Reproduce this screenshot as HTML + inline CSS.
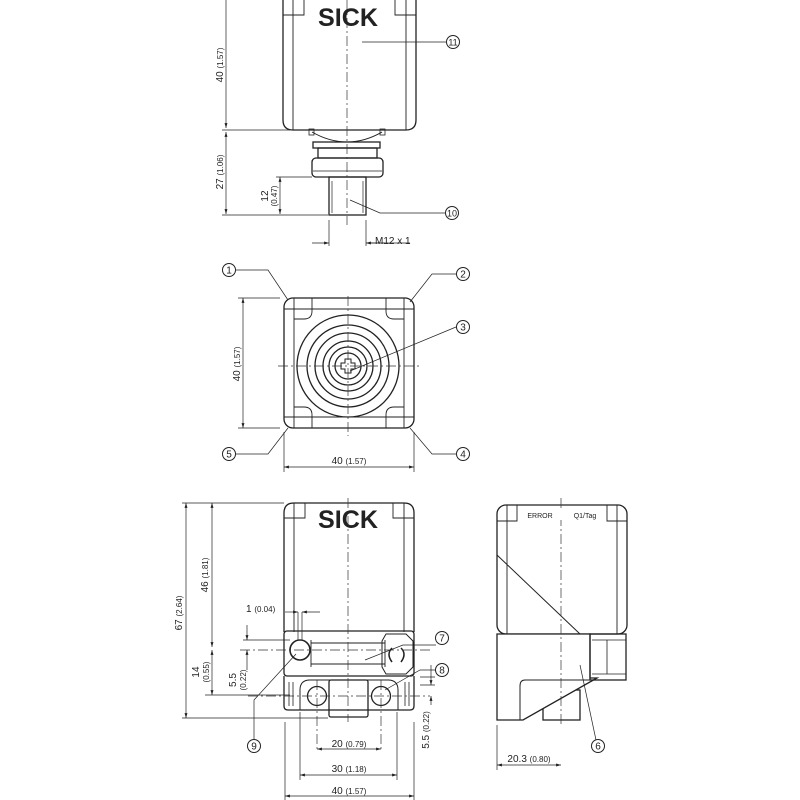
<!DOCTYPE html>
<html><head><meta charset="utf-8"><style>
html,body{margin:0;padding:0;background:#fff}
svg{display:block}
text{font-family:"Liberation Sans",sans-serif;fill:#222}
.s{font-size:8px}
</style></head><body>
<svg width="800" height="800" viewBox="0 0 800 800" xmlns="http://www.w3.org/2000/svg">
<defs>
<marker id="a" viewBox="0 0 10 10" refX="10" refY="5" markerWidth="7" markerHeight="7" orient="auto-start-reverse"><path d="M0,2 L10,5 L0,8 z" fill="#222"/></marker>
</defs>
<g fill="none" stroke="#222" stroke-width="1.3">
<!-- TOP VIEW -->
<path d="M283,-5 V120 Q283,130 293,130 H406 Q416,130 416,120 V-5"/>
<path d="M293,-5 V130 M406,-5 V130 M283,15 H304 V0 M416,15 H395 V0" stroke-width="0.9"/>
<path d="M312,132 Q347,152 382,132" stroke-width="1"/>
<rect x="309" y="129" width="5" height="6" stroke-width="0.8"/><rect x="380" y="129" width="5" height="6" stroke-width="0.8"/>
<rect x="313" y="142" width="67" height="6"/>
<rect x="318" y="148" width="59" height="10"/>
<rect x="312" y="158" width="71" height="19" rx="4"/>
<line x1="313" y1="171" x2="382" y2="171" stroke-width="0.8"/>
<rect x="329" y="177" width="37" height="38"/>
<line x1="332" y1="181" x2="332" y2="213" stroke-width="0.7"/><line x1="363" y1="181" x2="363" y2="213" stroke-width="0.7"/>
<!-- FRONT VIEW -->
<rect x="284" y="298" width="130" height="130" rx="9"/>
<path d="M294,298 V428 M404,298 V428 M284,309 H414 M284,417 H414" stroke-width="0.9"/>
<path d="M294,319 H304 Q312,319 312,311 V298 M404,319 H394 Q386,319 386,311 V298 M294,407 H304 Q312,407 312,415 V428 M404,407 H394 Q386,407 386,415 V428" stroke-width="0.9"/>
<circle cx="348" cy="366" r="51"/><circle cx="348" cy="366" r="41"/><circle cx="348" cy="366" r="33"/><circle cx="348" cy="366" r="25"/><circle cx="348" cy="366" r="19"/><circle cx="348" cy="366" r="13"/>
<path d="M345,359 h6 v4 h4 v6 h-4 v4 h-6 v-4 h-4 v-6 h4 z" stroke-width="1"/>
<!-- BOTTOM-LEFT VIEW -->
<path d="M284,632 V513 Q284,503 294,503 H404 Q414,503 414,513 V632"/>
<path d="M294,503 V632 M404,503 V632 M284,518 H305 V503 M414,518 H393 V503" stroke-width="0.9"/>
<rect x="284" y="631" width="130" height="45" rx="3"/>
<path d="M311,640 V667 M385,640 V667 M311,643 H385 M311,664 H385" stroke-width="0.9"/>
<path d="M386,634 H406 L413,641 V667 L406,674 H386 L382,667 V641 Z" stroke-width="1"/>
<path d="M392,648 Q386,654 392,662 M401,648 Q407,654 401,662" stroke-width="1.5"/>
<circle cx="300" cy="650" r="10" stroke-width="1.6"/>
<path d="M284,676 V706 Q284,710 288,710 H410 Q414,710 414,706 V676" />
<path d="M300,710 V690 Q300,680 310,680 H388 Q398,680 398,690 V710" stroke-width="1"/>
<path d="M289,682 V706 M293,682 V706 M405,682 V706 M409,682 V706" stroke-width="0.8"/>
<circle cx="317" cy="696" r="9.5"/><circle cx="381" cy="696" r="9.5"/>
<rect x="329" y="680" width="39" height="37" rx="2"/>
<!-- SIDE VIEW -->
<rect x="497" y="505" width="130" height="129" rx="9"/>
<path d="M507,505 V634 M617,505 V634 M497,521 H517 V505 M627,521 H607 V505" stroke-width="0.9"/>
<line x1="497" y1="555" x2="580" y2="634" stroke-width="1"/>
<rect x="543" y="690" width="37" height="30" fill="#fff"/>
<path d="M497,634 H590 V678 L597,678 L523,720 H497 Z" fill="#fff"/>
<path d="M590,680 H525 Q520,680 520,686 V720" stroke-width="1"/>
<rect x="590" y="634" width="36" height="46"/>
<path d="M592,640 H626 M592,674 H626 M607,640 V674" stroke-width="0.8"/>
</g>
<!-- centerlines -->
<g stroke="#333" stroke-width="0.7" stroke-dasharray="10,3,2,3" fill="none">
<line x1="347" y1="0" x2="347" y2="225"/>
<line x1="348" y1="296" x2="348" y2="436"/><line x1="278" y1="366" x2="420" y2="366"/>
<line x1="348" y1="498" x2="348" y2="722"/>
<line x1="240" y1="650" x2="430" y2="650"/><line x1="248" y1="696" x2="430" y2="696"/>
<line x1="561" y1="498" x2="561" y2="725"/>
<line x1="317" y1="680" x2="317" y2="750"/><line x1="381" y1="680" x2="381" y2="750"/>
</g>
<!-- dimension lines -->
<g stroke="#222" stroke-width="0.7" fill="none">
<line x1="226" y1="0" x2="226" y2="128" marker-end="url(#a)"/>
<line x1="226" y1="132" x2="226" y2="214" marker-start="url(#a)" marker-end="url(#a)"/>
<path d="M222,130 H290 M222,215 H328 M276,177 H312"/>
<line x1="280" y1="177" x2="280" y2="214" marker-start="url(#a)" marker-end="url(#a)"/>
<path d="M329,220 V246 M366,220 V246"/>
<line x1="312" y1="243" x2="329" y2="243" marker-end="url(#a)"/>
<line x1="385" y1="243" x2="366" y2="243" marker-end="url(#a)"/>
<line x1="366" y1="243" x2="410" y2="243"/>
<line x1="243" y1="298" x2="243" y2="428" marker-start="url(#a)" marker-end="url(#a)"/>
<path d="M238,298 H280 M238,428 H280 M284,432 V472 M414,432 V472"/>
<line x1="284" y1="467" x2="414" y2="467" marker-start="url(#a)" marker-end="url(#a)"/>
<line x1="186" y1="503" x2="186" y2="718" marker-start="url(#a)" marker-end="url(#a)"/>
<path d="M182,503 H284 M182,718 H328"/>
<line x1="212" y1="503" x2="212" y2="647" marker-start="url(#a)" marker-end="url(#a)"/>
<line x1="212" y1="650" x2="212" y2="695" marker-start="url(#a)" marker-end="url(#a)"/>
<path d="M205,695 H290 M243,640 H290"/>
<line x1="247" y1="625" x2="247" y2="640" marker-end="url(#a)"/>
<line x1="247" y1="670" x2="247" y2="650" marker-end="url(#a)"/>
<path d="M298,612 V640 M302,612 V640"/>
<line x1="285" y1="612" x2="298" y2="612" marker-end="url(#a)"/>
<line x1="320" y1="612" x2="302" y2="612" marker-end="url(#a)"/>
<path d="M420,677 H435 M420,685 H435"/>
<line x1="431" y1="665" x2="431" y2="685" marker-end="url(#a)"/>
<line x1="431" y1="705" x2="431" y2="696" marker-end="url(#a)"/>
<path d="M300,712 V780 M397,712 V780 M285,722 V800 M414,722 V800 M497,725 V770"/>
<line x1="317" y1="749" x2="381" y2="749" marker-start="url(#a)" marker-end="url(#a)"/>
<line x1="300" y1="775" x2="397" y2="775" marker-start="url(#a)" marker-end="url(#a)"/>
<line x1="285" y1="796" x2="414" y2="796" marker-start="url(#a)" marker-end="url(#a)"/>
<line x1="497" y1="765" x2="561" y2="765" marker-start="url(#a)" marker-end="url(#a)"/>
<!-- callout leaders -->
<path d="M362,42 H446 M350,200 L380,213 H445"/>
<path d="M236,270 H268 L288,300 M456,274 H432 L410,302 M456,327 L350,371 M456,454 H432 L410,428 M236,454 H268 L288,428"/>
<path d="M365,660 L403,645 H436 M385,690 L420,670 H436 M296,654 L254,700 V740 M580,665 L596,740"/>
</g>
<!-- callout circles -->
<g fill="#fff" stroke="#222" stroke-width="1">
<circle cx="453" cy="42" r="6.5"/><circle cx="452" cy="213" r="6.5"/>
<circle cx="229" cy="270" r="6.5"/><circle cx="463" cy="274" r="6.5"/><circle cx="463" cy="327" r="6.5"/><circle cx="463" cy="454" r="6.5"/><circle cx="229" cy="454" r="6.5"/>
<circle cx="442" cy="638" r="6.5"/><circle cx="442" cy="670" r="6.5"/><circle cx="254" cy="746" r="6.5"/><circle cx="598" cy="746" r="6.5"/>
</g>
<g font-size="10" text-anchor="middle">
<text x="453" y="45.5" font-size="9">11</text><text x="452" y="216.5" font-size="9">10</text>
<text x="229" y="273.5">1</text><text x="463" y="277.5">2</text><text x="463" y="330.5">3</text><text x="463" y="457.5">4</text><text x="229" y="457.5">5</text>
<text x="442" y="641.5">7</text><text x="442" y="673.5">8</text><text x="254" y="749.5">9</text><text x="598" y="749.5">6</text>
</g>
<!-- SICK logos -->
<text x="348" y="26" font-size="25" font-weight="bold" text-anchor="middle" textLength="60" lengthAdjust="spacingAndGlyphs">SICK</text>
<text x="348" y="528" font-size="25" font-weight="bold" text-anchor="middle" textLength="60" lengthAdjust="spacingAndGlyphs">SICK</text>
<rect x="524" y="510" width="78" height="10" fill="#fff"/>
<text x="540" y="518" font-size="7" text-anchor="middle">ERROR</text>
<text x="585" y="518" font-size="7" text-anchor="middle">Q1/Tag</text>
<!-- dim texts -->
<g font-size="10">
<text transform="translate(223,65) rotate(-90)" text-anchor="middle">40 <tspan class="s">(1.57)</tspan></text>
<text transform="translate(223,172) rotate(-90)" text-anchor="middle">27 <tspan class="s">(1.06)</tspan></text>
<text transform="translate(268,196) rotate(-90)" text-anchor="middle">12</text>
<text transform="translate(277,196) rotate(-90)" text-anchor="middle" class="s">(0.47)</text>
<text x="375" y="244">M12 x 1</text>
<text transform="translate(240,364) rotate(-90)" text-anchor="middle">40 <tspan class="s">(1.57)</tspan></text>
<text x="349" y="464" text-anchor="middle">40 <tspan class="s">(1.57)</tspan></text>
<text transform="translate(182,613) rotate(-90)" text-anchor="middle">67 <tspan class="s">(2.64)</tspan></text>
<text transform="translate(208,575) rotate(-90)" text-anchor="middle">46 <tspan class="s">(1.81)</tspan></text>
<text transform="translate(199,672) rotate(-90)" text-anchor="middle">14</text>
<text transform="translate(209,672) rotate(-90)" text-anchor="middle" class="s">(0.55)</text>
<text transform="translate(236,680) rotate(-90)" text-anchor="middle">5.5</text>
<text transform="translate(246,680) rotate(-90)" text-anchor="middle" class="s">(0.22)</text>
<text x="246" y="612">1 <tspan class="s">(0.04)</tspan></text>
<text transform="translate(429,730) rotate(-90)" text-anchor="middle">5.5 <tspan class="s">(0.22)</tspan></text>
<text x="349" y="747" text-anchor="middle">20 <tspan class="s">(0.79)</tspan></text>
<text x="349" y="772" text-anchor="middle">30 <tspan class="s">(1.18)</tspan></text>
<text x="349" y="794" text-anchor="middle">40 <tspan class="s">(1.57)</tspan></text>
<text x="529" y="762" text-anchor="middle">20.3 <tspan class="s">(0.80)</tspan></text>
</g>
</svg>
</body></html>
